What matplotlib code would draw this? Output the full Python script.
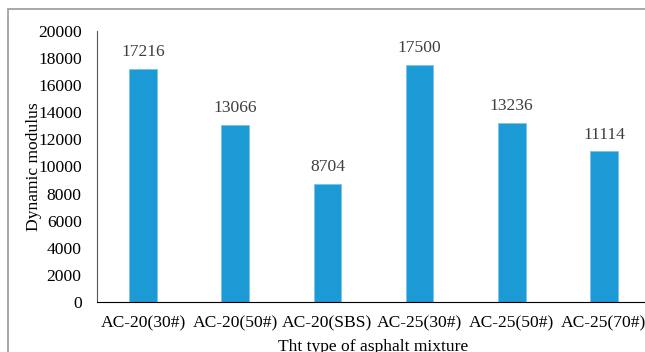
import matplotlib.pyplot as plt
from matplotlib.patches import Rectangle

mixtures = ["AC-20(30#)", "AC-20(50#)", "AC-20(SBS)", "AC-25(30#)", "AC-25(50#)", "AC-25(70#)"]
modulus = [17216, 13066, 8704, 17500, 13236, 11114]
yticks = [0, 2000, 4000, 6000, 8000, 10000, 12000, 14000, 16000, 18000, 20000]

plt.rcParams["font.family"] = ["Liberation Serif", "DejaVu Serif"]

W, H = 645, 352
fig = plt.figure(figsize=(W / 100, H / 100), dpi=100)

# outer frame of the chart area (runs off the right and bottom edges)
fig.patches.append(Rectangle((8 / W, -0.1), 1.2, 1 - 9 / H + 0.1,
                             transform=fig.transFigure, fill=False,
                             edgecolor="#9a9a9a", lw=1.2))

ax = fig.add_axes([97 / W, 1 - 302 / H, (650 - 97) / W, (302 - 31) / H])
x = range(len(mixtures))
ax.bar(x, modulus, width=0.3, color="#1b9ad6", edgecolor="#7cc4ea", lw=0.6)
for xi, v in zip(x, modulus):
    ax.text(xi, v + 650, str(v), ha="center", va="bottom", fontsize=12.6, color="#404040")

ax.set_xlim(-0.5, 5.5)
ax.set_ylim(0, 20000)
ax.set_yticks(yticks)
ax.set_yticklabels([str(t) for t in yticks], fontsize=12.6)
ax.set_xticks(list(x))
ax.set_xticklabels(mixtures, fontsize=12.6)
ax.tick_params(axis="both", length=0)
ax.tick_params(axis="y", pad=11)
ax.tick_params(axis="x", pad=10)

for s in ["top", "right"]:
    ax.spines[s].set_visible(False)
ax.spines["left"].set_color("#555555")
ax.spines["bottom"].set_color("#000000")

ax.set_ylabel("Dynamic modulus", fontsize=12.6, labelpad=-3)
ax.set_xlabel("Tht type of asphalt mixture", fontsize=12.6, labelpad=5)

fig.savefig("out.png", dpi=100)
